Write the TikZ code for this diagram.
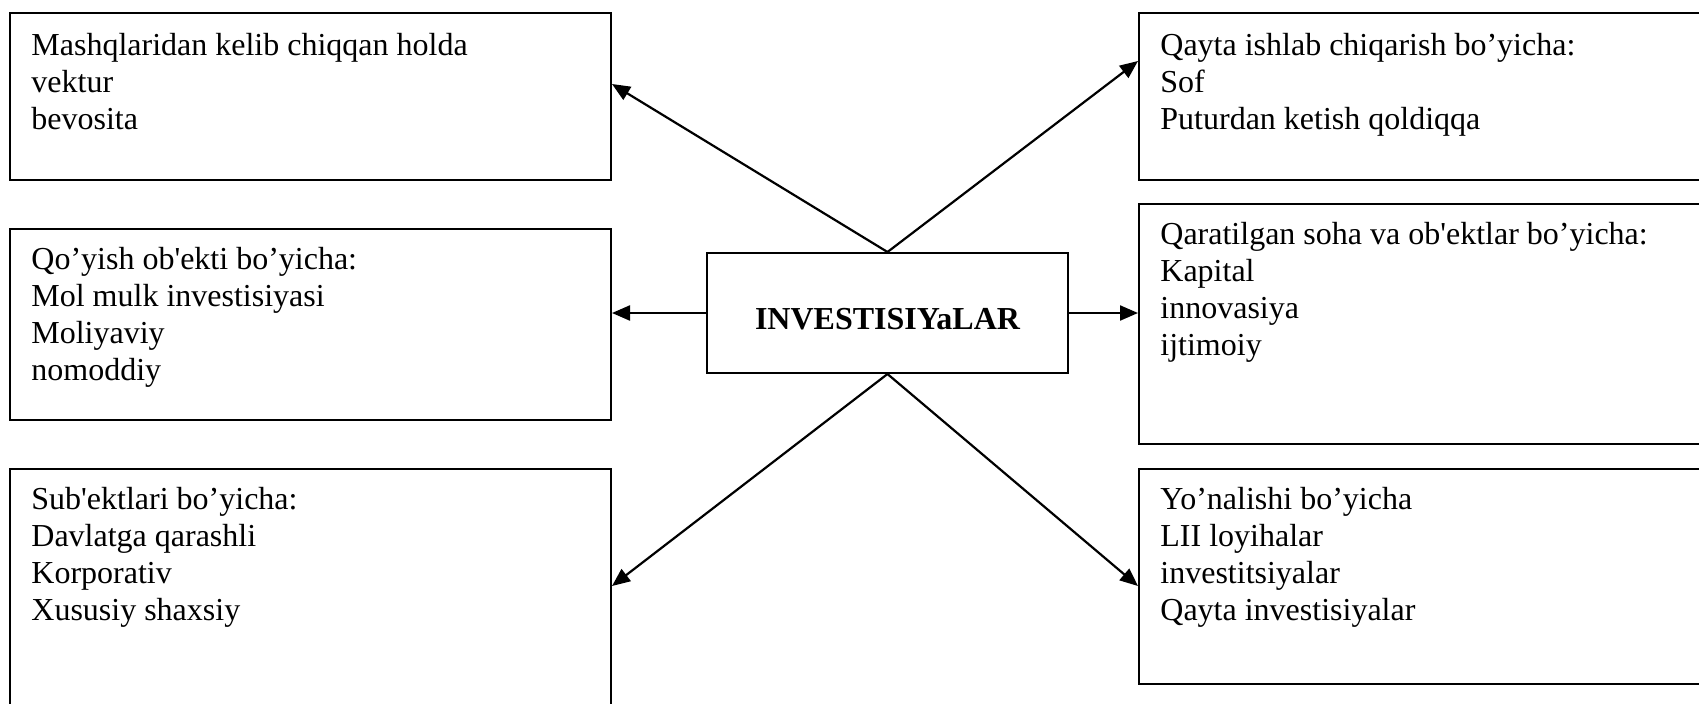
\documentclass[tikz,border=0pt]{standalone}
\usepackage{fontspec}
\newfontfamily\rfont{Liberation Serif}
\usetikzlibrary{arrows.meta,calc}
\tikzset{
  box/.style={draw, line width=1pt, rectangle, inner sep=0pt, anchor=north west},
  txt/.style={anchor=base west, inner sep=0pt, font=\rfont\fontsize{16}{18.5}\selectfont},
  conn/.style={line width=1.1pt, -{Triangle[length=9pt,width=7.5pt]}}
}
\newcommand{\lines}[1]{\begin{tabular}[t]{@{}l@{}}#1\end{tabular}}
\begin{document}
\begin{tikzpicture}[x=0.5pt,y=-0.5pt]
\useasboundingbox (0,0) rectangle (1699,703);
\clip (0,0) rectangle (1699,703);
% boxes
\node[box, minimum width=300.5pt, minimum height=83.5pt] (tl) at (9,12) {};
\node[box, minimum width=300.5pt, minimum height=95.5pt] (ml) at (9,228) {};
\node[box, minimum width=300.5pt, minimum height=130pt] (bl) at (9,468) {};
\node[box, minimum width=290pt, minimum height=83.5pt] (tr) at (1138,12) {};
\node[box, minimum width=290pt, minimum height=120pt] (mr) at (1138,203) {};
\node[box, minimum width=290pt, minimum height=107.5pt] (br) at (1138,468) {};
\node[box, minimum width=180.5pt, minimum height=60pt, font=\rfont\bfseries\fontsize{16}{18.5}\selectfont, text height=16pt, text depth=0pt] (c) at (706,252) {INVESTISIYaLAR};
% texts
\node[txt] (tlt) at ($(tl.north west)+(22,43)$) {\lines{Mashqlaridan kelib chiqqan holda\\vektur\\bevosita}};
\node[txt] (mlt) at ($(ml.north west)+(22,41)$) {\lines{Qo’yish ob'ekti bo’yicha:\\Mol mulk investisiyasi\\Moliyaviy\\nomoddiy}};
\node[txt] (blt) at ($(bl.north west)+(22,41)$) {\lines{Sub'ektlari bo’yicha:\\Davlatga qarashli\\Korporativ\\Xususiy shaxsiy}};
\node[txt] (trt) at ($(tr.north west)+(22,43)$) {\lines{Qayta ishlab chiqarish bo’yicha:\\Sof\\Puturdan ketish qoldiqqa}};
\node[txt] (mrt) at ($(mr.north west)+(22,41)$) {\lines{Qaratilgan soha va ob'ektlar bo’yicha:\\Kapital\\innovasiya\\ijtimoiy}};
\node[txt] (brt) at ($(br.north west)+(22,41)$) {\lines{Yo’nalishi bo’yicha\\LII loyihalar\\investitsiyalar\\Qayta investisiyalar}};
% connectors
\draw[conn] (c.north) -- ($(tl.north east)+(0,72)$);
\draw[conn] (c.north) -- ($(tr.north west)+(0,49)$);
\draw[conn] (c.south) -- ($(bl.north east)+(0,118)$);
\draw[conn] (c.south) -- ($(br.north west)+(0,118)$);
\draw[conn] (c.west) -- (c.west -| ml.east);
\draw[conn] (c.east) -- (c.east -| mr.west);
\end{tikzpicture}
\end{document}
